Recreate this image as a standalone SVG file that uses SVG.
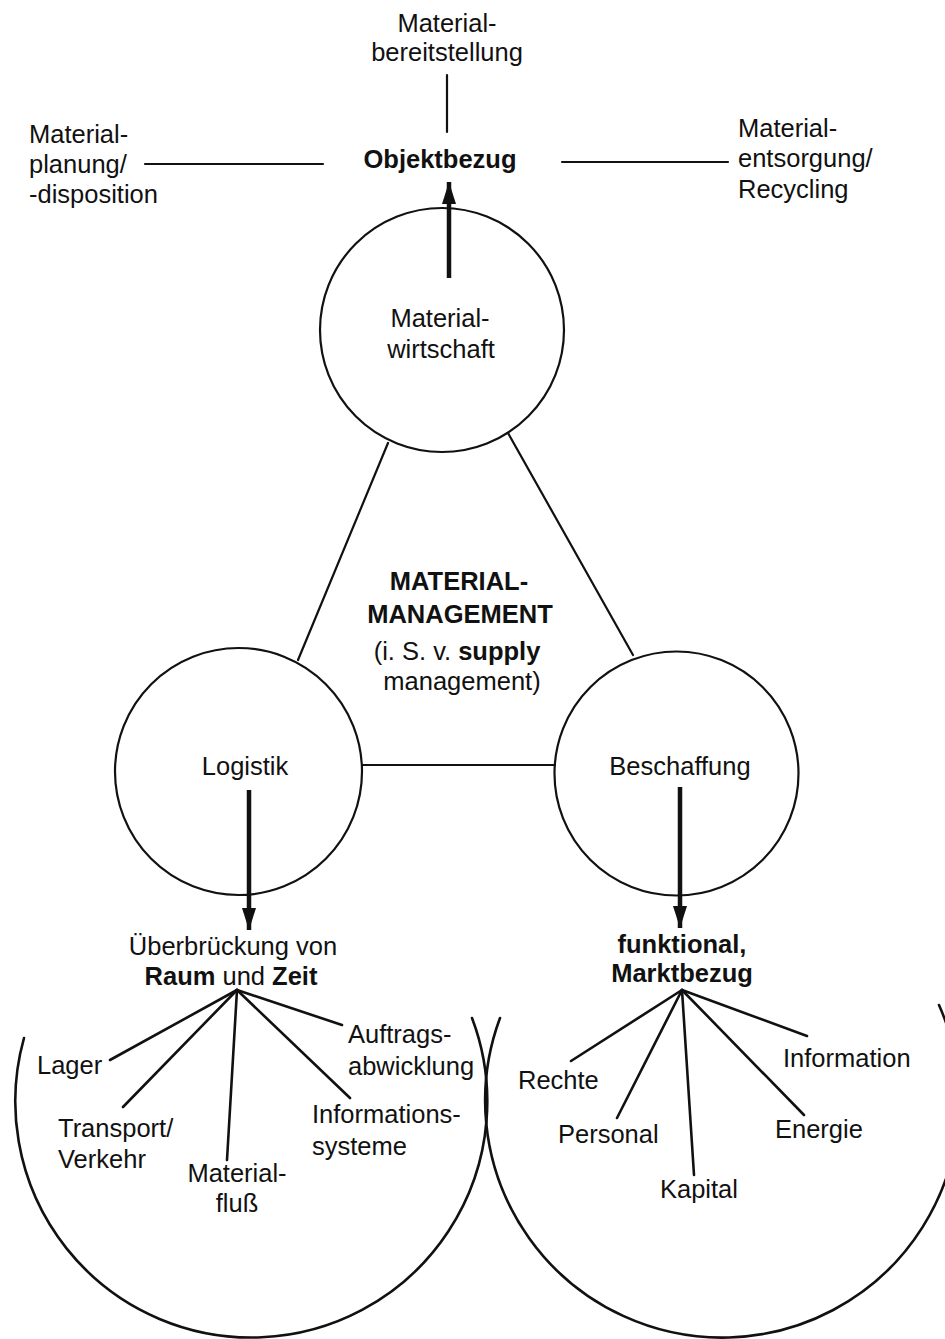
<svg xmlns="http://www.w3.org/2000/svg" width="945" height="1339" viewBox="0 0 945 1339">
<style>
text{font-family:"Liberation Sans",Arial,Helvetica,sans-serif;font-size:25.5px;fill:#111}
.c{text-anchor:middle}
.b{font-weight:bold}
.ln{stroke:#111;stroke-width:2.2;fill:none;stroke-linecap:round}
.fan{stroke:#111;stroke-width:2.6;fill:none;stroke-linecap:round}
.arr{stroke:#111;stroke-width:4.5;fill:none}
.node{stroke:#111;stroke-width:2.2;fill:none}
</style>
<defs>
<marker id="ah" markerUnits="userSpaceOnUse" markerWidth="14" markerHeight="22" viewBox="0 0 14 22" refX="7" refY="0" orient="auto-start-reverse">
<path d="M0 0 L7 22 L14 0 Z" fill="#111" transform="rotate(0)"/>
</marker>
<marker id="tip" markerUnits="userSpaceOnUse" markerWidth="22" markerHeight="14" viewBox="0 0 22 14" refX="22" refY="7" orient="auto">
<path d="M0 0 L22 7 L0 14 Z" fill="#111"/>
</marker>
</defs>
<rect width="945" height="1339" fill="#fff"/>

<g id="connectors">
<line class="ln" x1="447" y1="75" x2="447" y2="132"/>
<line class="ln" x1="145" y1="164" x2="323" y2="164"/>
<line class="ln" x1="562" y1="162" x2="728" y2="162"/>
<line class="arr" x1="449" y1="278" x2="449" y2="182" marker-end="url(#tip)"/>
<line class="ln" x1="388" y1="443" x2="298" y2="660"/>
<line class="ln" x1="508" y1="433" x2="633" y2="655"/>
<line class="ln" x1="362" y1="765" x2="555" y2="765"/>
<line class="arr" x1="249" y1="790" x2="249" y2="930" marker-end="url(#tip)"/>
<line class="arr" x1="680" y1="787" x2="680" y2="928" marker-end="url(#tip)"/>
<g id="fan-left">
<line class="fan" x1="237" y1="990" x2="110" y2="1060"/>
<line class="fan" x1="237" y1="990" x2="123" y2="1107"/>
<line class="fan" x1="237" y1="990" x2="227" y2="1160"/>
<line class="fan" x1="237" y1="990" x2="350" y2="1098"/>
<line class="fan" x1="237" y1="990" x2="342" y2="1025"/>
</g>
<g id="fan-right">
<line class="fan" x1="682" y1="990" x2="571" y2="1061"/>
<line class="fan" x1="682" y1="990" x2="617" y2="1118"/>
<line class="fan" x1="682" y1="990" x2="694" y2="1175"/>
<line class="fan" x1="682" y1="990" x2="804" y2="1115"/>
<line class="fan" x1="682" y1="990" x2="807" y2="1036"/>
</g>
</g>

<g id="top-label">
<text class="c" x="447" y="32">Material-</text>
<text class="c" x="447" y="61">bereitstellung</text>
</g>
<g id="left-label">
<text x="29" y="143">Material-</text>
<text x="29" y="173">planung/</text>
<text x="29" y="203">-disposition</text>
</g>
<g id="right-label">
<text x="738" y="137">Material-</text>
<text x="738" y="167">entsorgung/</text>
<text x="738" y="198">Recycling</text>
</g>
<g id="objektbezug">
<text class="c b" x="440" y="168">Objektbezug</text>
</g>

<g id="materialwirtschaft">
<circle class="node" cx="442" cy="330" r="122"/>
<text class="c" x="440" y="327">Material-</text>
<text class="c" x="441" y="358">wirtschaft</text>
</g>

<g id="materialmanagement">
<text class="c b" x="459" y="590">MATERIAL-</text>
<text class="c b" x="460" y="623">MANAGEMENT</text>
<text class="c" x="457" y="660">(i. S. v. <tspan class="b">supply</tspan></text>
<text class="c" x="462" y="690">management)</text>
</g>

<g id="logistik">
<circle class="node" cx="238.5" cy="771.5" r="123.5"/>
<text class="c" x="245" y="775">Logistik</text>
</g>

<g id="beschaffung">
<circle class="node" cx="676.5" cy="773.5" r="122"/>
<text class="c" x="680" y="775">Beschaffung</text>
</g>

<g id="ueberbrueckung">
<text class="c" x="233" y="955">Überbrückung von</text>
<text class="c" x="231" y="985"><tspan class="b">Raum</tspan> und <tspan class="b">Zeit</tspan></text>
</g>

<g id="funktional">
<text class="c b" x="682" y="953">funktional,</text>
<text class="c b" x="682" y="982">Marktbezug</text>
</g>

<g id="logistik-bereich">
<path class="fan" d="M24 1038 A236 236 0 1 0 472 1018"/>
<text x="37" y="1074">Lager</text>
<text x="58" y="1137">Transport/</text>
<text x="58" y="1168">Verkehr</text>
<text class="c" x="237" y="1182">Material-</text>
<text class="c" x="237" y="1212">fluß</text>
<text x="312" y="1123">Informations-</text>
<text x="312" y="1155">systeme</text>
<text x="348" y="1043">Auftrags-</text>
<text x="348" y="1075">abwicklung</text>
</g>

<g id="beschaffung-bereich">
<path class="fan" d="M500 1018 A237 237 0 1 0 939 1005"/>
<text x="518" y="1089">Rechte</text>
<text x="558" y="1143">Personal</text>
<text x="660" y="1198">Kapital</text>
<text x="775" y="1138">Energie</text>
<text x="783" y="1067">Information</text>
</g>
</svg>
